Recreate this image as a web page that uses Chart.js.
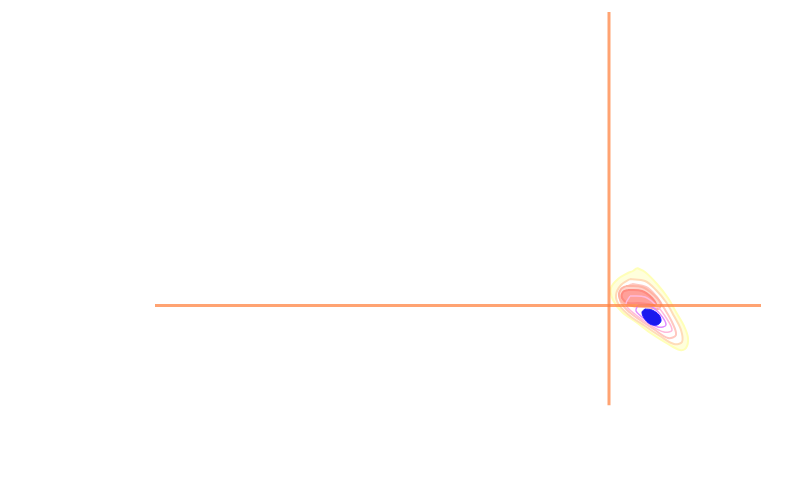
<!DOCTYPE html>
<html>
<head>
<meta charset="utf-8">
<script src="https://cdn.jsdelivr.net/npm/chart.js@4/dist/chart.umd.min.js"></script>
<style>
html,body{margin:0;padding:0;background:#fff;}
canvas{display:block;}
</style>
</head>
<body>
<canvas id="c" width="795" height="496"></canvas>
<script>
// Crosshair extents (data units)
const xAxisRange = [-4.54, 1.52];
const yAxisRange = [-1.0, 2.935];

// Contour levels, outer to inner: [x, y] vertices
const contourYellow = [[0.28,0.375],[0.36,0.335],[0.48,0.215],[0.59,0.075],[0.67,-0.065],[0.75,-0.205],[0.79,-0.325],[0.77,-0.425],[0.71,-0.445],[0.59,-0.385],[0.43,-0.285],[0.27,-0.165],[0.13,-0.065],[0.04,0.055],[0.02,0.175],[0.09,0.265],[0.19,0.325],[0.24,0.345]];
const contourOrange = [[0.21,0.265],[0.36,0.245],[0.47,0.155],[0.57,0.035],[0.65,-0.105],[0.72,-0.245],[0.73,-0.365],[0.65,-0.385],[0.51,-0.305],[0.36,-0.205],[0.21,-0.105],[0.10,0.005],[0.07,0.105],[0.12,0.205]];
const contourSalmon = [[0.23,0.215],[0.37,0.185],[0.47,0.095],[0.55,-0.025],[0.63,-0.165],[0.67,-0.295],[0.59,-0.325],[0.46,-0.245],[0.31,-0.145],[0.18,-0.045],[0.11,0.055],[0.13,0.155]];
const contourCoral = [[0.17,0.195],[0.33,0.185],[0.45,0.105],[0.52,0.015],[0.49,-0.035],[0.40,-0.02],[0.27,-0.01],[0.15,0.02],[0.10,0.095],[0.12,0.165]];
const contourRed = [[0.19,0.155],[0.33,0.145],[0.43,0.075],[0.47,0.005],[0.39,0.015],[0.29,0.025],[0.19,0.025],[0.13,0.075],[0.14,0.135]];
const contourPink = [[0.21,0.095],[0.36,0.085],[0.47,0.005],[0.56,-0.105],[0.63,-0.245],[0.55,-0.265],[0.41,-0.195],[0.27,-0.095],[0.17,0.005]];
const contourPurple = [[0.29,0.005],[0.41,-0.005],[0.51,-0.085],[0.57,-0.195],[0.49,-0.215],[0.37,-0.145],[0.27,-0.055]];
const contourBlue = [[0.36,-0.035],[0.43,-0.045],[0.50,-0.095],[0.52,-0.155],[0.48,-0.195],[0.41,-0.185],[0.35,-0.125],[0.33,-0.065]];

function ring(pts){
  const d = pts.map(p => ({x:p[0], y:p[1]}));
  d.push({x:pts[0][0], y:pts[0][1]});
  return d;
}
function contourSet(pts, stroke, fillColor, width, order){
  return {
    data: ring(pts), showLine: true, borderColor: stroke, borderWidth: width,
    backgroundColor: fillColor || 'rgba(0,0,0,0)', fill: fillColor ? 'shape' : false,
    pointRadius: 0, tension: 0.35, order: order
  };
}
const lineColor = 'rgba(255,127,60,0.72)';

new Chart(document.getElementById('c'), {
  type: 'scatter',
  data: {
    datasets: [
      { data: [{x:xAxisRange[0], y:0},{x:xAxisRange[1], y:0}], showLine:true, borderColor:lineColor, borderWidth:3, pointRadius:0, order:0 },
      { data: [{x:0, y:yAxisRange[0]},{x:0, y:yAxisRange[1]}], showLine:true, borderColor:lineColor, borderWidth:3, pointRadius:0, order:0 },
      contourSet(contourYellow, '#ffffb8', '#ffffdc', 2, 20),
      contourSet(contourOrange, '#ffdcb8', '#ffffff', 2, 19),
      contourSet(contourSalmon, '#ffc8c0', null, 2, 18),
      contourSet(contourCoral, '#ffb4a4', '#ffd4cc', 2, 17.5),
      contourSet(contourRed, '#ff8a80', '#ffa09a', 2, 17),
      contourSet(contourPink, '#ffbadc', null, 1.5, 16),
      contourSet(contourPurple, '#e08cff', null, 1.5, 15),
      contourSet(contourBlue, '#1a1aff', '#1a1aee', 1, 14)
    ]
  },
  options: {
    responsive: false,
    animation: false,
    layout: { padding: { left: 155, right: 34, top: 12, bottom: 90.5 } },
    plugins: { legend: { display: false }, tooltip: { enabled: false } },
    scales: {
      x: { type: 'linear', display: false, min: xAxisRange[0], max: xAxisRange[1] },
      y: { type: 'linear', display: false, min: yAxisRange[0], max: yAxisRange[1] }
    }
  }
});
</script>
</body>
</html>
